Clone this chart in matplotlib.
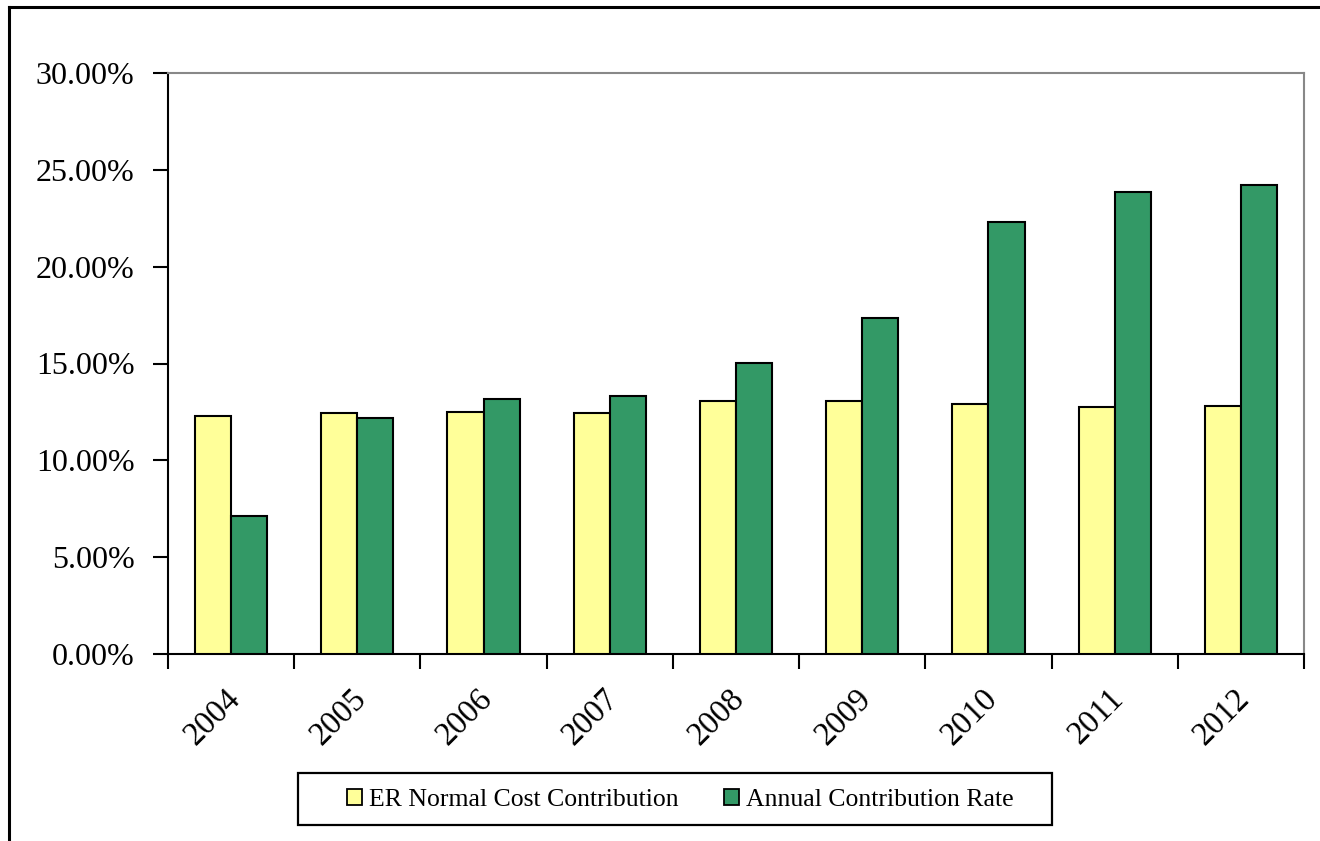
import matplotlib
matplotlib.use("Agg")
import matplotlib.pyplot as plt
import matplotlib.transforms as mtransforms
from matplotlib.lines import Line2D
from matplotlib.patches import Rectangle
from matplotlib.ticker import FuncFormatter, FixedLocator
import numpy as np

years = ["2004", "2005", "2006", "2007", "2008", "2009", "2010", "2011", "2012"]
er_normal_cost = [12.29, 12.44, 12.52, 12.42, 13.04, 13.04, 12.92, 12.74, 12.82]
annual_rate = [7.15, 12.20, 13.16, 13.34, 15.04, 17.36, 22.30, 23.86, 24.22]
series_names = ["ER Normal Cost Contribution", "Annual Contribution Rate"]
yticks = [0, 5, 10, 15, 20, 25, 30]

W, H = 1320, 841
plt.rcParams['font.family'] = ['Liberation Serif', 'DejaVu Serif']
fig = plt.figure(figsize=(W / 100, H / 100), dpi=100)

ax = fig.add_axes([168 / W, 1 - 654 / H, (1304 - 168) / W, (654 - 73) / H])

x = np.arange(len(years))
bw = 0.286
ax.bar(x - bw / 2, er_normal_cost, width=bw, color="#FFFF99", edgecolor="black",
       linewidth=1.5, label=series_names[0], zorder=3)
ax.bar(x + bw / 2, annual_rate, width=bw, color="#339966", edgecolor="black",
       linewidth=1.5, label=series_names[1], zorder=3)

ax.set_xlim(-0.5, len(years) - 0.5)
ax.set_ylim(0, 30)
ax.set_yticks(yticks)
ax.yaxis.set_major_formatter(FuncFormatter(lambda v, p: f"{v:.2f}%"))
ax.tick_params(axis='y', direction='out', length=11, width=1.5, labelsize=23, pad=13)

ax.set_xticks(x)
ax.set_xticklabels(years, rotation=45, ha='right', fontsize=23.5)
ax.xaxis.set_minor_locator(FixedLocator(np.arange(-0.5, len(years), 1.0)))
ax.tick_params(axis='x', which='major', length=0, pad=21)
ax.tick_params(axis='x', which='minor', direction='out', length=11, width=1.5)
offset = mtransforms.ScaledTranslation(15 / 100, 0, fig.dpi_scale_trans)
for lab in ax.get_xticklabels():
    lab.set_transform(lab.get_transform() + offset)

for s in ['left', 'bottom']:
    ax.spines[s].set_color('black')
    ax.spines[s].set_linewidth(1.5)
for s in ['top', 'right']:
    ax.spines[s].set_color('#888888')
    ax.spines[s].set_linewidth(1.5)

leg = fig.legend(loc='center left', bbox_to_anchor=(347 / W, 1 - 800 / H),
                 ncol=2, fontsize=18.5, frameon=False,
                 handlelength=0.57, handleheight=0.57, handletextpad=0.3,
                 columnspacing=1.75, borderpad=0, borderaxespad=0)
for p in leg.get_patches():
    p.set_linewidth(1.3)

fig.add_artist(Rectangle((298 / W, 1 - 825 / H), (1052 - 298) / W, (825 - 773) / H,
                         transform=fig.transFigure, fill=False, edgecolor='black', lw=1.6))

bx = 8.5 / W
ty = 1 - 6.5 / H
fig.add_artist(Line2D([bx, bx], [0, ty], transform=fig.transFigure, color='black', lw=2.2))
fig.add_artist(Line2D([bx, 1], [ty, ty], transform=fig.transFigure, color='black', lw=2.2))

fig.savefig("out.png", dpi=100)
